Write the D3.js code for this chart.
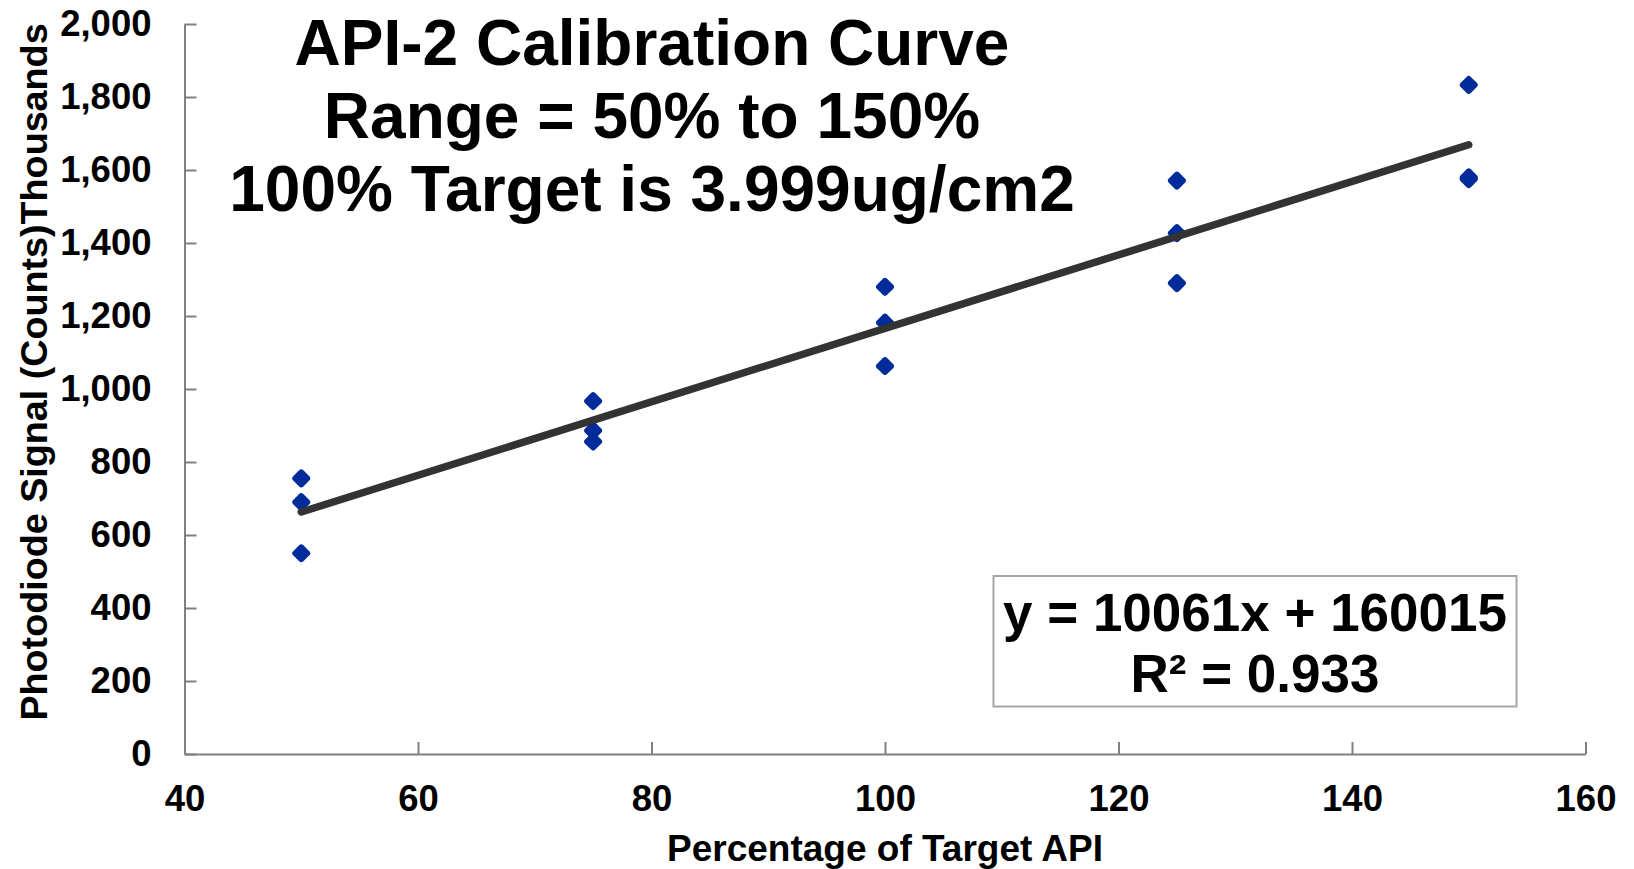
<!DOCTYPE html>
<html>
<head>
<meta charset="utf-8">
<script src="https://cdn.jsdelivr.net/npm/d3@7"></script>
<style>
	body { margin: 0; background: #ffffff; }
	text { font-family: "Liberation Sans", Arial, sans-serif; font-weight: bold; fill: #000000; }
</style>
</head>
<body>
<div class="chart"></div>
<script>
// data (signal in thousands of counts)
var pct_target = [50, 50, 50, 75, 75, 75, 100, 100, 100, 125, 125, 125, 150, 150, 150];
var signal = [755, 690, 550, 967, 886, 856, 1280, 1182, 1063, 1571, 1427, 1290, 1833, 1580, 1575];
var x_ticks = [40, 60, 80, 100, 120, 140, 160];
var y_ticks = [0, 200, 400, 600, 800, 1000, 1200, 1400, 1600, 1800, 2000];
var trend_slope = 10061;     // counts per %
var trend_intercept = 160015; // counts
var trend_x = [50, 150];
var title_lines = ["API-2 Calibration Curve", "Range = 50% to 150%", "100% Target is 3.999ug/cm2"];
var eq_lines = ["y = 10061x + 160015", "R\u00b2 = 0.933"];

var width = 1634;
var height = 869;
var plot_left = 184.5, plot_right = 1585.5, plot_top = 24, plot_bottom = 754;

var svg = d3.select(".chart").append("svg")
	.attr("width", width)
	.attr("height", height);

var xScale = d3.scaleLinear()
	.domain([40, 160])
	.range([plot_left, plot_right]);
var yScale = d3.scaleLinear()
	.domain([0, 2000])
	.range([plot_bottom, plot_top]);

//------------------------------------------------
// axes
var xAxis = d3.axisBottom(xScale)
	.tickValues(x_ticks)
	.tickSizeInner(-12)
	.tickSizeOuter(0)
	.tickPadding(31);
var gx = svg.append("g")
	.attr("transform", "translate(0," + plot_bottom + ")")
	.call(xAxis);

var yAxis = d3.axisLeft(yScale)
	.tickValues(y_ticks)
	.tickFormat(d3.format(","))
	.tickSizeInner(-12)
	.tickSizeOuter(0)
	.tickPadding(33);
var gy = svg.append("g")
	.attr("transform", "translate(" + plot_left + ",0)")
	.call(yAxis);

[gx, gy].forEach(function (g) {
	g.select(".domain").attr("stroke", "#808080").attr("stroke-width", 2);
	g.selectAll(".tick line").attr("stroke", "#808080").attr("stroke-width", 2);
	g.selectAll(".tick text")
		.attr("font-size", 36.5)
		.attr("font-family", "Liberation Sans, Arial, sans-serif")
		.attr("font-weight", "bold")
		.attr("fill", "#000");
});

// axis titles
svg.append("text")
	.attr("x", 885)
	.attr("y", 861)
	.attr("text-anchor", "middle")
	.attr("font-size", 37)
	.text("Percentage of Target API");

svg.append("text")
	.attr("transform", "translate(47," + 372 + ") rotate(-90)")
	.attr("text-anchor", "middle")
	.attr("font-size", 37.7)
	.text("Photodiode Signal (Counts)Thousands");

//------------------------------------------------
// markers (rounded diamonds)
svg.append("g").selectAll("rect")
	.data(signal)
	.enter().append("rect")
	.attr("x", -7.2)
	.attr("y", -7.2)
	.attr("width", 14.4)
	.attr("height", 14.4)
	.attr("rx", 3)
	.attr("fill", "#002b9a")
	.attr("transform", function (d, i) {
		return "translate(" + xScale(pct_target[i]) + "," + yScale(d) + ") rotate(45)";
	});

// linear trendline (counts -> thousands)
var line = d3.line()
	.x(function (d) { return xScale(d); })
	.y(function (d) { return yScale((trend_slope * d + trend_intercept) / 1000); });
svg.append("path")
	.datum(trend_x)
	.attr("d", line)
	.attr("fill", "none")
	.attr("stroke", "#333333")
	.attr("stroke-width", 7.5)
	.attr("stroke-linecap", "round");

//------------------------------------------------
// title
svg.append("g").selectAll("text")
	.data(title_lines)
	.enter().append("text")
	.attr("x", 652)
	.attr("y", function (d, i) { return 65 + i * 73; })
	.attr("text-anchor", "middle")
	.attr("font-size", 64)
	.text(function (d) { return d; });

// equation box
svg.append("rect")
	.attr("x", 993.5)
	.attr("y", 576)
	.attr("width", 523)
	.attr("height", 130.5)
	.attr("fill", "#ffffff")
	.attr("stroke", "#a6a6a6")
	.attr("stroke-width", 2);

svg.append("g").selectAll("text")
	.data(eq_lines)
	.enter().append("text")
	.attr("x", 1255)
	.attr("y", function (d, i) { return 631 + i * 61; })
	.attr("text-anchor", "middle")
	.attr("font-size", 53)
	.text(function (d) { return d; });
</script>
</body>
</html>
